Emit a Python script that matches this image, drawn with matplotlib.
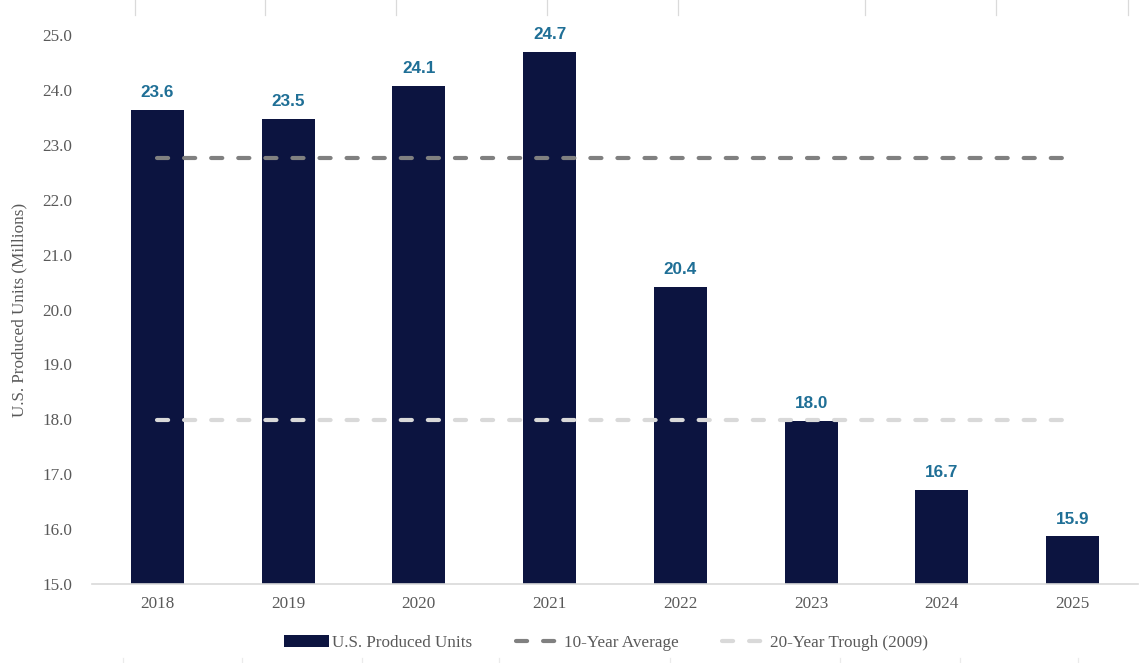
import matplotlib
matplotlib.use("Agg")
import matplotlib.pyplot as plt
from matplotlib.lines import Line2D
from matplotlib.patches import Patch

years = ["2018", "2019", "2020", "2021", "2022", "2023", "2024", "2025"]
units = [23.63, 23.47, 24.07, 24.69, 20.41, 17.97, 16.71, 15.87]
ten_year_avg = 22.76
trough_2009 = 17.98
yticks = [15.0, 16.0, 17.0, 18.0, 19.0, 20.0, 21.0, 22.0, 23.0, 24.0, 25.0]

plt.rcParams["lines.scale_dashes"] = False
serif = ["Liberation Serif", "DejaVu Serif"]
sans = ["Liberation Sans", "DejaVu Sans"]
fs = 12.3

W, H = 1146, 663
fig = plt.figure(figsize=(W / 100, H / 100), dpi=100)
ax = fig.add_axes([92 / W, 1 - 584 / H, (1138 - 92) / W, (584 - 35) / H])

bar_color = "#0C1440"
label_color = "#1F6F96"
x = list(range(len(years)))
ax.bar(x, units, width=0.405, bottom=0, color=bar_color, zorder=2,
       label="U.S. Produced Units")

for xi, v in zip(x, units):
    ax.annotate(f"{v:.1f}", (xi, v), xytext=(0, 7), textcoords="offset points",
                ha="center", va="bottom", fontsize=fs, fontweight="bold",
                color=label_color, family=sans, zorder=4)

ax.plot([x[0], x[-1]], [ten_year_avg, ten_year_avg], color="#808080", lw=3,
        dashes=(8, 11.5), dash_capstyle="round", zorder=3, label="10-Year Average")
ax.plot([x[0], x[-1]], [trough_2009, trough_2009], color="#D9D9D9", lw=3,
        dashes=(8, 11.5), dash_capstyle="round", zorder=3, label="20-Year Trough (2009)")

ax.set_xlim(-0.5, len(years) - 0.5)
ax.set_ylim(15.0, 25.0)
ax.set_yticks(yticks)
ax.set_yticklabels([f"{t:.1f}" for t in yticks], family=serif, fontsize=fs, color="#595959")
ax.set_xticks(x)
ax.set_xticklabels(years, family=serif, fontsize=fs, color="#595959")
ax.tick_params(axis="y", length=0, pad=14)
ax.tick_params(axis="x", length=0, pad=9)
for s in ["top", "right", "left"]:
    ax.spines[s].set_visible(False)
ax.spines["bottom"].set_color("#D9D9D9")
ax.spines["bottom"].set_linewidth(1.2)
ax.set_ylabel("U.S. Produced Units (Millions)", family=serif, fontsize=fs,
              color="#595959", labelpad=11)

handles = [
    Patch(facecolor=bar_color, edgecolor="none"),
    Line2D([], [], color="#808080", lw=3, dashes=(8, 11.5), dash_capstyle="round"),
    Line2D([], [], color="#D9D9D9", lw=3, dashes=(8, 11.5), dash_capstyle="round"),
]
leg = fig.legend(handles, ["U.S. Produced Units", "10-Year Average", "20-Year Trough (2009)"],
                 loc="center", bbox_to_anchor=(606 / W, 1 - 643 / H), ncol=3,
                 frameon=False, handlelength=2.6, handletextpad=0.2, columnspacing=2.55,
                 prop={"family": serif, "size": fs})
for t in leg.get_texts():
    t.set_color("#595959")

# faint border fragments at the top and bottom of the image
for px in [135, 265, 396, 547, 678, 865, 996, 1128]:
    fig.add_artist(Line2D([px / W, px / W], [1 - 15 / H, 1.0], color="#DADADA", lw=0.9))
for px in [123, 242, 362, 499, 670, 840, 960, 1078]:
    fig.add_artist(Line2D([px / W, px / W], [0.0, 5 / H], color="#EBEBEB", lw=0.9))

fig.savefig("out.png", dpi=100)
